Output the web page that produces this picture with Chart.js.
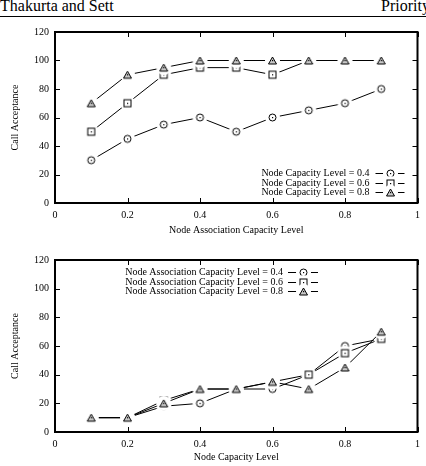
<!DOCTYPE html>
<html>
<head>
<meta charset="utf-8">
<script src="https://cdn.jsdelivr.net/npm/chart.js@4.4.1/dist/chart.umd.min.js"></script>
<style>
  html, body { margin: 0; padding: 0; background: #fff; width: 426px; height: 466px; overflow: hidden; position: relative; }
  .hdr { position: absolute; top: -3px; font-family: 'Liberation Serif', 'Times New Roman', serif; font-size: 16px; color: #000; white-space: nowrap; line-height: 18px; }
  #rule { position: absolute; left: 0; top: 16px; width: 426px; height: 1px; background: #000; }
  canvas { position: absolute; left: 0; }
</style>
</head>
<body>
<div class="hdr" style="left:0px;">Thakurta and Sett</div>
<div class="hdr" style="left:381px;">Priority</div>
<div id="rule"></div>
<canvas id="c1" width="426" height="222" style="top:20px;"></canvas>
<canvas id="c2" width="426" height="218" style="top:248px;"></canvas>
<script>
// ---- data ----
const xValues = [0.1, 0.2, 0.3, 0.4, 0.5, 0.6, 0.7, 0.8, 0.9];
const xTickLabels = ['0', '0.2', '0.4', '0.6', '0.8', '1'];
const yTickLabels = ['0', '20', '40', '60', '80', '100', '120'];

const topLabels = ['Node Capacity Level = 0.4', 'Node Capacity Level = 0.6', 'Node Capacity Level = 0.8'];
const topCircle   = [30, 45, 55, 60, 50, 60, 65, 70, 80];
const topSquare   = [50, 70, 90, 95, 95, 90, 100, 100, 100];
const topTriangle = [70, 90, 95, 100, 100, 100, 100, 100, 100];

const bottomLabels = ['Node Association Capacity Level = 0.4', 'Node Association Capacity Level = 0.6', 'Node Association Capacity Level = 0.8'];
const bottomCircle   = [10, 10, 18, 20, 30, 30, 40, 60, 65];
const bottomSquare   = [10, 10, 22, 30, 30, 35, 40, 55, 65];
const bottomTriangle = [10, 10, 20, 30, 30, 35, 30, 45, 70];

const FONT = "'Liberation Serif', 'Times New Roman', serif";
Chart.defaults.font.family = FONT;
Chart.defaults.font.size = 10;
Chart.defaults.color = '#000';

function marker(type) {
  const c = document.createElement('canvas');
  c.width = 17; c.height = 17;
  const g = c.getContext('2d');
  const m = 8.5;
  g.fillStyle = '#fff';
  g.beginPath(); g.arc(m, m, 7.5, 0, Math.PI * 2); g.fill();
  g.strokeStyle = '#000'; g.lineWidth = 1;
  if (type === 'circle') {
    g.beginPath(); g.arc(m, m, 3.5, 0, Math.PI * 2); g.stroke();
  } else if (type === 'square') {
    g.strokeRect(5, 5, 7, 7);
  } else {
    g.beginPath(); g.moveTo(m, 5); g.lineTo(m + 4, 12); g.lineTo(m - 4, 12); g.closePath();
    g.fillStyle = '#c8c8c8'; g.fill(); g.stroke();
  }
  g.fillStyle = '#000';
  g.fillRect(8, 8, 1.2, 1.2);
  return c;
}
const markers = { circle: marker('circle'), square: marker('square'), triangle: marker('triangle') };

function makeDataset(label, values, mk, order) {
  return {
    label: label,
    data: xValues.map((x, i) => ({ x: x, y: values[i] })),
    borderColor: '#000',
    borderWidth: 1,
    pointStyle: markers[mk],
    pointRadius: 5,
    mk: mk,
    order: order,
    tension: 0,
    fill: false
  };
}

const legendCfg = {
  c1: { fromRight: 48, fromBottom: 30, dy: 9.5, gap: 6, len: 29 },
  c2: { fromLeft: 228, fromTop: 12, dy: 9.5, gap: 5, len: 30 }
};

const framePlugin = {
  id: 'frame',
  afterDraw(chart) {
    const ctx = chart.ctx;
    const a = chart.chartArea;
    const xs = chart.scales.x, ys = chart.scales.y;
    ctx.save();
    ctx.strokeStyle = '#000';
    ctx.lineWidth = 1;
    const tl = 5;
    ctx.beginPath();
    xs.ticks.forEach(t => {
      const px = Math.round(xs.getPixelForValue(t.value)) + 0.5;
      ctx.moveTo(px, a.bottom); ctx.lineTo(px, a.bottom - tl);
      ctx.moveTo(px, a.top); ctx.lineTo(px, a.top + tl);
    });
    ys.ticks.forEach(t => {
      const py = Math.round(ys.getPixelForValue(t.value)) + 0.5;
      ctx.moveTo(a.left, py); ctx.lineTo(a.left + tl, py);
      ctx.moveTo(a.right, py); ctx.lineTo(a.right - tl, py);
    });
    ctx.stroke();
    ctx.lineWidth = 2;
    ctx.strokeRect(a.left, a.top, a.right - a.left, a.bottom - a.top);
    // legend
    const lg = legendCfg[chart.canvas.id];
    const tx = lg.fromRight !== undefined ? a.right - lg.fromRight : a.left + lg.fromLeft;
    const y0 = lg.fromBottom !== undefined ? a.bottom - lg.fromBottom : a.top + lg.fromTop;
    ctx.font = '10px ' + FONT;
    ctx.fillStyle = '#000';
    ctx.textAlign = 'right';
    ctx.textBaseline = 'middle';
    chart.data.datasets.forEach((ds, i) => {
      const y = Math.round(y0 + i * lg.dy) + 0.5;
      ctx.fillText(ds.label, tx, y);
      ctx.lineWidth = 1;
      ctx.beginPath();
      ctx.moveTo(tx + lg.gap, y); ctx.lineTo(tx + lg.gap + lg.len, y);
      ctx.stroke();
      const img = markers[ds.mk];
      ctx.drawImage(img, Math.round(tx + lg.gap + lg.len / 2 - img.width / 2), Math.round(y - 0.5 - img.height / 2 + 0.5));
    });
    ctx.restore();
  }
};

function makeChart(id, datasets, xTitle, axisHeight, titleBottomPad) {
  return new Chart(document.getElementById(id), {
    type: 'line',
    data: { datasets: datasets },
    options: {
      responsive: false,
      animation: false,
      layout: { padding: { top: 12, right: 6, left: 0, bottom: 0 } },
      plugins: { legend: { display: false }, tooltip: { enabled: false } },
      scales: {
        x: {
          type: 'linear', min: 0, max: 1,
          grid: { display: false, drawTicks: false },
          border: { display: false },
          ticks: { stepSize: 0.2, padding: 6, maxRotation: 0, autoSkip: false,
            callback: (v) => xTickLabels[Math.round(v * 5)] },
          title: { display: true, text: xTitle, font: { size: 10 }, padding: { top: 0, bottom: titleBottomPad } },
          afterFit: (s) => { s.height = axisHeight; }
        },
        y: {
          type: 'linear', min: 0, max: 120,
          grid: { display: false, drawTicks: false },
          border: { display: false },
          ticks: { stepSize: 20, padding: 6, callback: (v) => yTickLabels[Math.round(v / 20)] },
          title: { display: true, text: 'Call Acceptance', font: { size: 10 }, padding: { top: 9, bottom: 0 } },
          afterFit: (s) => { s.width = 55; }
        }
      }
    },
    plugins: [framePlugin]
  });
}

makeChart('c1', [
  makeDataset(topLabels[0], topCircle, 'circle', 2),
  makeDataset(topLabels[1], topSquare, 'square', 1),
  makeDataset(topLabels[2], topTriangle, 'triangle', 0)
], 'Node Association Capacity Level', 39, 6);

makeChart('c2', [
  makeDataset(bottomLabels[0], bottomCircle, 'circle', 2),
  makeDataset(bottomLabels[1], bottomSquare, 'square', 1),
  makeDataset(bottomLabels[2], bottomTriangle, 'triangle', 0)
], 'Node Capacity Level', 34, 3);
</script>
</body>
</html>
